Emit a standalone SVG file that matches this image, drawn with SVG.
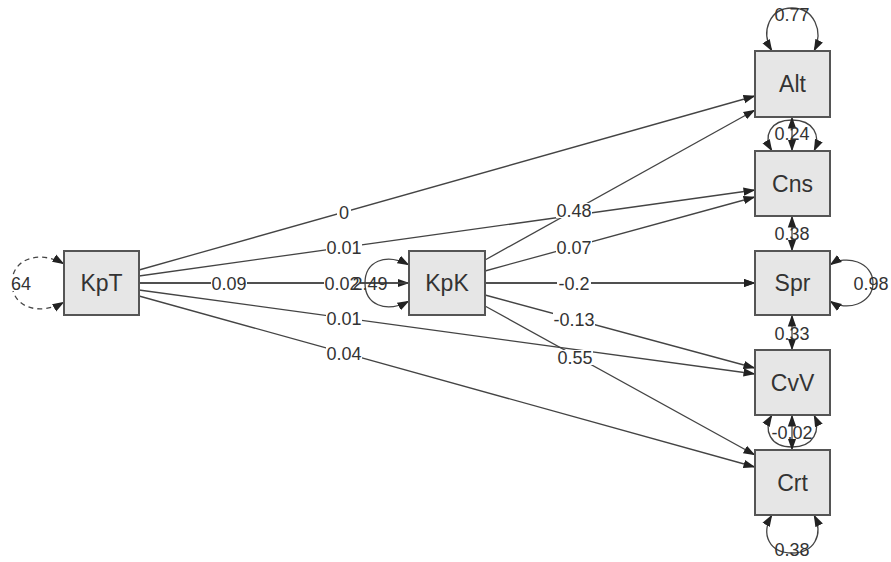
<svg xmlns="http://www.w3.org/2000/svg" width="891" height="562" viewBox="0 0 891 562">
<style>
.box{fill:#e6e6e6;stroke:#555;stroke-width:2}
.nl{font-family:"Liberation Sans",Arial,sans-serif;font-size:23px;fill:#333;text-anchor:middle}
.e{fill:none;stroke:#444;stroke-width:1.3}
.d{stroke-dasharray:5,4}
.el{font-family:"Liberation Sans",Arial,sans-serif;font-size:18px;fill:#333;text-anchor:middle}
.bg{fill:#fff}
</style>
<defs>
<marker id="a" viewBox="0 0 12 10" refX="11.5" refY="5" markerWidth="12" markerHeight="10" markerUnits="userSpaceOnUse" orient="auto-start-reverse">
<path d="M0,0.8 L12,5 L0,9.2 z" fill="#222"/>
</marker>
</defs>
<rect width="891" height="562" fill="#fff"/>
<g id="connectors">
<path class="e" d="M139,270 L755,96" marker-end="url(#a)"/>
<path class="e" d="M139,276 L755,190" marker-end="url(#a)"/>
<path class="e" d="M139,283 L409,283" marker-end="url(#a)"/>
<path class="e" d="M139,283 L755,283" marker-end="url(#a)"/>
<path class="e" d="M139,290 L755,374" marker-end="url(#a)"/>
<path class="e" d="M139,296 L755,467" marker-end="url(#a)"/>
<path class="e" d="M485,260 L755,110" marker-end="url(#a)"/>
<path class="e" d="M485,271 L755,197" marker-end="url(#a)"/>
<path class="e" d="M485,283 L755,283" marker-end="url(#a)"/>
<path class="e" d="M485,295 L755,368" marker-end="url(#a)"/>
<path class="e" d="M485,306 L755,455" marker-end="url(#a)"/>
<path class="e d" d="M64,264 C40,250 12,258 12,283 C12,308 40,316 64,302" marker-start="url(#a)" marker-end="url(#a)"/>
<path class="e" d="M409,265 C385,252 365,262 365,283 C365,304 385,314 409,301" marker-start="url(#a)" marker-end="url(#a)"/>
<path class="e" d="M772,51 C760,31 770,8 792,8 C814,8 824,31 814,51" marker-start="url(#a)" marker-end="url(#a)"/>
<path class="e" d="M772,151 C763,136 770,120 792,120 C814,120 821,136 814,151" marker-start="url(#a)" marker-end="url(#a)"/>
<path class="e" d="M830,265 C846,254 873,262 873,283 C873,304 846,312 830,301" marker-start="url(#a)" marker-end="url(#a)"/>
<path class="e" d="M772,415 C763,430 770,447 792,447 C814,447 821,430 814,415" marker-start="url(#a)" marker-end="url(#a)"/>
<path class="e" d="M772,515 C760,535 770,553 792,553 C814,553 824,535 814,515" marker-start="url(#a)" marker-end="url(#a)"/>
<path class="e" d="M792,117 L792,151" marker-start="url(#a)" marker-end="url(#a)"/>
<path class="e" d="M792,216 L792,251" marker-start="url(#a)" marker-end="url(#a)"/>
<path class="e" d="M792,315 L792,350" marker-start="url(#a)" marker-end="url(#a)"/>
<path class="e" d="M792,415 L792,450" marker-start="url(#a)" marker-end="url(#a)"/>
<rect class="bg" x="337" y="205" width="14" height="15"/><text class="el" x="344" y="218.5">0</text>
<rect class="bg" x="326" y="240" width="36" height="15"/><text class="el" x="344" y="254">0.01</text>
<rect class="bg" x="211" y="276" width="36" height="15"/><text class="el" x="229" y="289.5">0.09</text>
<rect class="bg" x="324" y="276" width="36" height="15"/><text class="el" x="342" y="289.5">0.02</text>
<rect class="bg" x="326" y="311" width="36" height="15"/><text class="el" x="344" y="324.5">0.01</text>
<rect class="bg" x="326" y="346" width="36" height="15"/><text class="el" x="344" y="359.5">0.04</text>
<rect class="bg" x="556" y="203" width="36" height="15"/><text class="el" x="574" y="216.5">0.48</text>
<rect class="bg" x="556" y="240" width="36" height="15"/><text class="el" x="574" y="253.5">0.07</text>
<rect class="bg" x="557" y="276" width="34" height="15"/><text class="el" x="574" y="289.5">-0.2</text>
<rect class="bg" x="553" y="312" width="42" height="15"/><text class="el" x="574" y="325.5">-0.13</text>
<rect class="bg" x="557" y="350" width="36" height="15"/><text class="el" x="575" y="363.5">0.55</text>
<rect class="bg" x="10" y="276" width="22" height="15"/><text class="el" x="21" y="289.5">64</text>
<text class="el" x="370" y="290">2.49</text>
<text class="el" x="792" y="20.5">0.77</text>
<text class="el" x="792" y="139.5">0.24</text>
<text class="el" x="792" y="239.5">0.38</text>
<text class="el" x="871" y="289.5">0.98</text>
<text class="el" x="792" y="339.5">0.33</text>
<text class="el" x="792" y="438.5">-0.02</text>
<text class="el" x="792" y="556">0.38</text>
</g>
<g id="KpT"><rect class="box" x="64" y="251" width="75" height="64"/><text class="nl" x="101.5" y="291">KpT</text></g>
<g id="KpK"><rect class="box" x="409" y="251" width="76" height="64"/><text class="nl" x="447" y="291">KpK</text></g>
<g id="Alt"><rect class="box" x="755" y="51" width="75" height="66"/><text class="nl" x="792.5" y="92">Alt</text></g>
<g id="Cns"><rect class="box" x="755" y="151" width="75" height="65"/><text class="nl" x="792.5" y="191.5">Cns</text></g>
<g id="Spr"><rect class="box" x="755" y="251" width="75" height="64"/><text class="nl" x="792.5" y="291">Spr</text></g>
<g id="CvV"><rect class="box" x="755" y="350" width="75" height="65"/><text class="nl" x="792.5" y="390.5">CvV</text></g>
<g id="Crt"><rect class="box" x="755" y="450" width="75" height="65"/><text class="nl" x="792.5" y="490.5">Crt</text></g>
</svg>
